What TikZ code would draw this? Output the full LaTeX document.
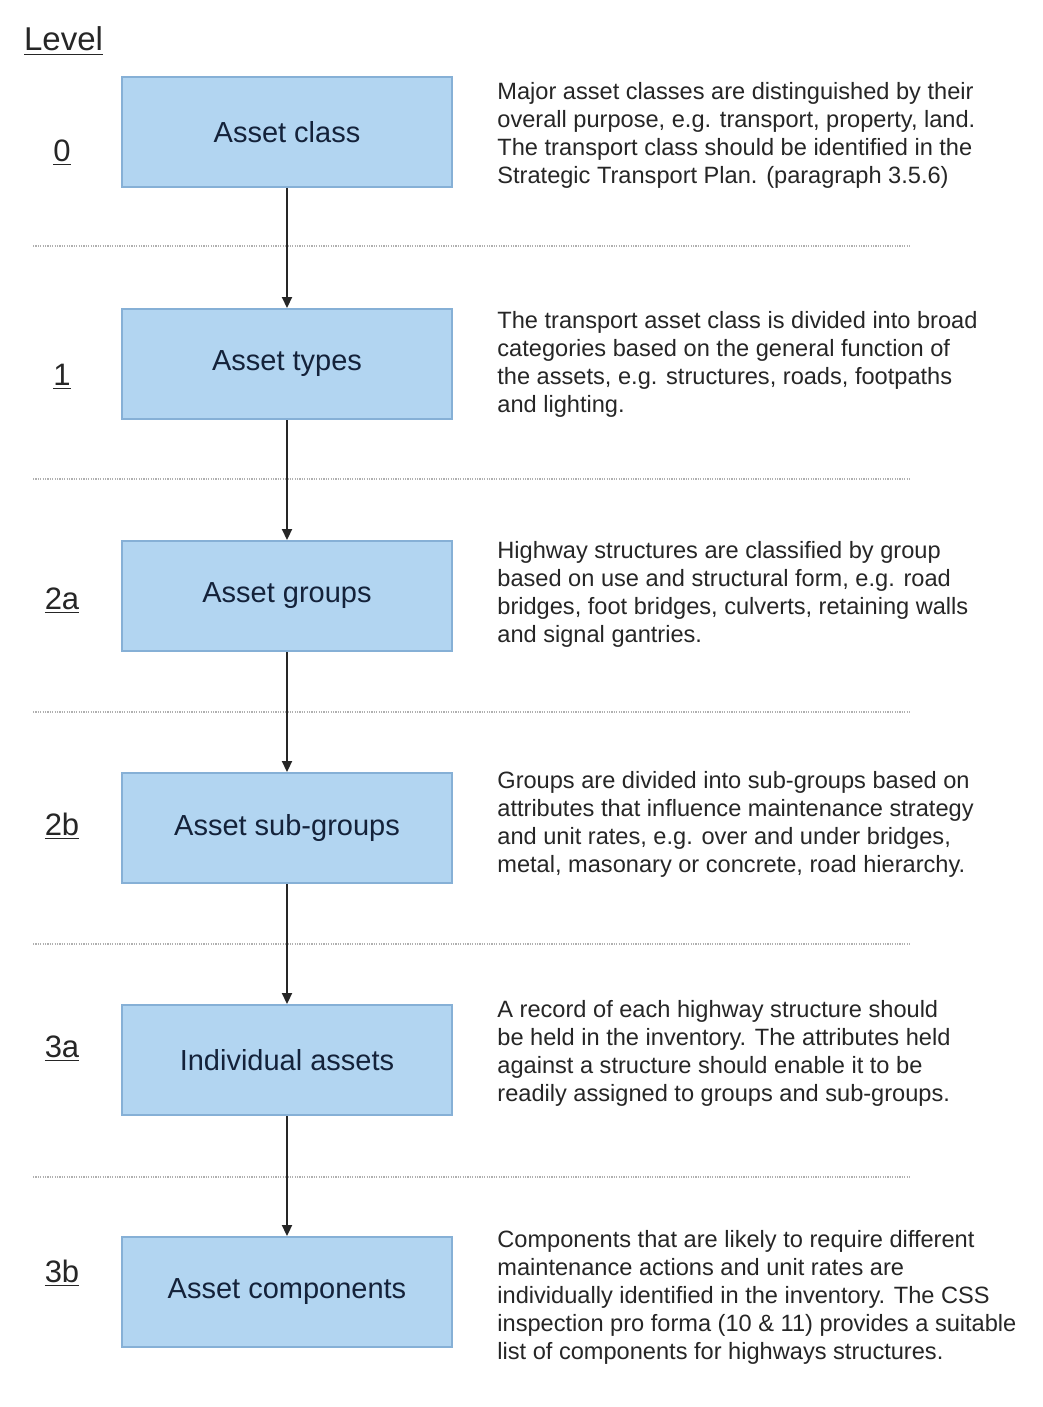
\documentclass[tikz,border=0pt]{standalone}
\usepackage{fontspec}
\setmainfont{Liberation Sans}
\usetikzlibrary{arrows.meta}
\definecolor{boxfill}{HTML}{B2D5F1}
\definecolor{boxline}{HTML}{86B0D6}
\definecolor{boxtext}{HTML}{14223A}
\definecolor{desctext}{HTML}{262626}
\definecolor{sepline}{HTML}{B0B0B0}
\tikzset{
  levelbox/.style={draw=boxline, line width=1pt, fill=boxfill, minimum width=165pt, minimum height=55pt, inner sep=0pt, text=boxtext, font=\fontsize{14.5}{17}\selectfont},
  desc/.style={anchor=north west, inner sep=0pt, align=left, text=desctext, font=\fontsize{11.8}{14}\selectfont},
  levelnum/.style={text=desctext, font=\fontsize{15.5}{18}\selectfont},
  sep/.style={draw=sepline, line width=1.2pt, dash pattern=on 0.6pt off 0.6pt},
  flow/.style={draw=black!85, line width=1.1pt, -{Triangle[length=5.5pt,width=5pt]}}
}
\begin{document}
\begin{tikzpicture}[x=0.5pt,y=-0.5pt]
\useasboundingbox (0,0) rectangle (1043,1407);
\fill[white] (0,0) rectangle (1043,1407);

% heading
\node[levelnum, font=\fontsize{16.5}{19}\selectfont, anchor=west] (hdr) at (17,41) {\underline{Level}};

% boxes
\node[levelbox] (b0) at (287,132) {Asset class};
\node[levelbox] (b1) at (287,364) {Asset types};
\node[levelbox] (b2) at (287,596) {Asset groups};
\node[levelbox] (b3) at (287,828) {Asset sub-groups};
\node[levelbox] (b4) at (287,1060) {Individual assets};
\node[levelbox] (b5) at (287,1292) {Asset components};

% level numbers
\node[levelnum] (n0) at (62,153) {\underline{0}};
\node[levelnum] (n1) at (62,377) {\underline{1}};
\node[levelnum] (n2) at (62,601) {\underline{2a}};
\node[levelnum] (n3) at (62,826) {\underline{2b}};
\node[levelnum] (n4) at (62,1049) {\underline{3a}};
\node[levelnum] (n5) at (62,1273) {\underline{3b}};

% separators
\coordinate (s0l) at (33,246);  \coordinate (s0r) at (910,246);
\coordinate (s1l) at (33,479);  \coordinate (s1r) at (910,479);
\coordinate (s2l) at (33,712);  \coordinate (s2r) at (910,712);
\coordinate (s3l) at (33,944);  \coordinate (s3r) at (910,944);
\coordinate (s4l) at (33,1177); \coordinate (s4r) at (910,1177);
\draw[sep] (s0l) -- (s0r);
\draw[sep] (s1l) -- (s1r);
\draw[sep] (s2l) -- (s2r);
\draw[sep] (s3l) -- (s3r);
\draw[sep] (s4l) -- (s4r);

% connectors
\draw[flow] (b0) -- (b1);
\draw[flow] (b1) -- (b2);
\draw[flow] (b2) -- (b3);
\draw[flow] (b3) -- (b4);
\draw[flow] (b4) -- (b5);

% descriptions
\node[desc] (d0) at (497,82) {Major asset classes are distinguished by their\\overall purpose, e.g. transport, property, land.\\The transport class should be identified in the\\Strategic Transport Plan. (paragraph 3.5.6)};
\node[desc] (d1) at (497,311) {The transport asset class is divided into broad\\categories based on the general function of\\the assets, e.g. structures, roads, footpaths\\and lighting.};
\node[desc] (d2) at (497,541) {Highway structures are classified by group\\based on use and structural form, e.g. road\\bridges, foot bridges, culverts, retaining walls\\and signal gantries.};
\node[desc] (d3) at (497,771) {Groups are divided into sub-groups based on\\attributes that influence maintenance strategy\\and unit rates, e.g. over and under bridges,\\metal, masonary or concrete, road hierarchy.};
\node[desc] (d4) at (497,1000) {A record of each highway structure should\\be held in the inventory. The attributes held\\against a structure should enable it to be\\readily assigned to groups and sub-groups.};
\node[desc] (d5) at (497,1230) {Components that are likely to require different\\maintenance actions and unit rates are\\individually identified in the inventory. The CSS\\inspection pro forma (10 \& 11) provides a suitable\\list of components for highways structures.};
\end{tikzpicture}
\end{document}
